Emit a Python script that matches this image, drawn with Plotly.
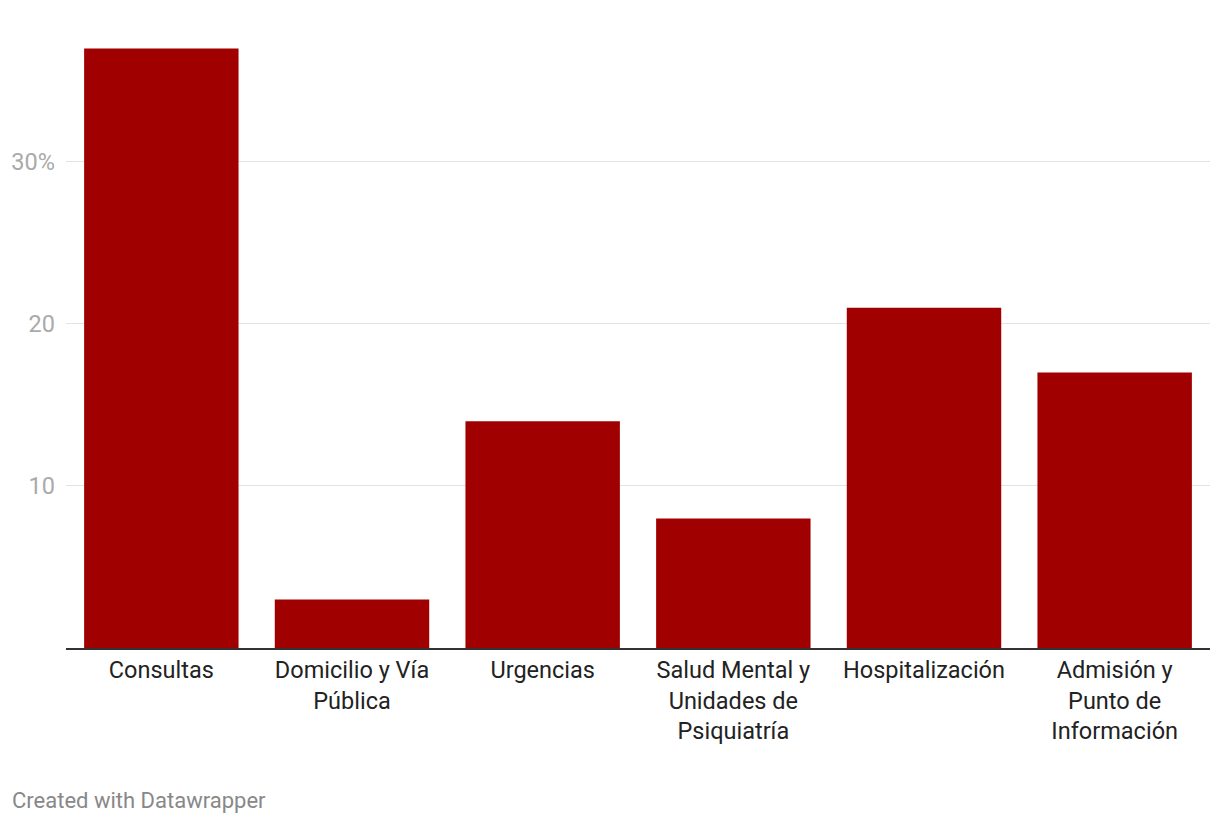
import plotly.graph_objects as go

categories = ["Consultas", "Domicilio y Vía<br>Pública", "Urgencias",
              "Salud Mental y<br>Unidades de<br>Psiquiatría", "Hospitalización",
              "Admisión y<br>Punto de<br>Información"]
values = [37, 3, 14, 8, 21, 17]
tick_vals = [10, 20, 30]
tick_text = ["10", "20", "30%"]

W, H = 1212, 816
L, R, T, B = 58, 10, 0, 176

fig = go.Figure(go.Bar(x=categories, y=values, marker=dict(color="#a10000", line=dict(width=0)),
                       hoverinfo="skip"))

fig.update_layout(
    width=W, height=H,
    margin=dict(l=L, r=R, t=T, b=B),
    paper_bgcolor="white", plot_bgcolor="white",
    bargap=0.19,
    showlegend=False,
    font=dict(family="Roboto", size=24, color="#222"),
    xaxis=dict(showline=True, linecolor="#333", linewidth=2, ticks="",
               tickfont=dict(size=23.5, color="#222"), showgrid=False),
    yaxis=dict(range=[0, 39.5], tickvals=tick_vals, ticktext=tick_text,
               showgrid=True, gridcolor="#e3e3e3", gridwidth=1, zeroline=False,
               tickfont=dict(size=23.5, color="#aaaaaa"), ticklabelstandoff=10,
               showline=False, ticks=""),
    annotations=[dict(text="Created with Datawrapper",
                      x=(2 - L) / (W - L - R), y=(H - B - 792) / (H - T - B),
                      xref="paper", yref="paper",
                      showarrow=False, font=dict(size=22, color="#888888"),
                      xanchor="left", yanchor="middle")],
)
fig.write_html("out.html")
